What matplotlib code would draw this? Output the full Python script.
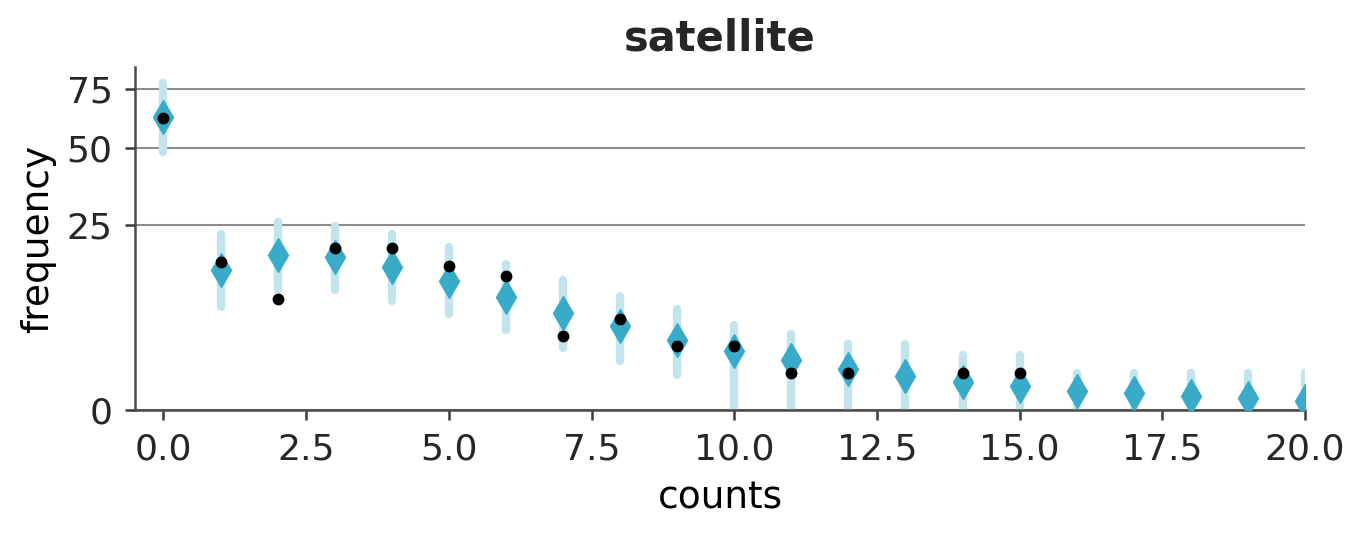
import numpy as np
import matplotlib
matplotlib.use("Agg")
import matplotlib.pyplot as plt

# data (frequency per count value)
counts = list(range(21))
pred_mean = [62.2, 14.2, 17.4, 17.1, 14.8, 12.1, 9.3, 6.8, 5.1, 3.6, 2.5, 1.8,
             1.2, 0.84, 0.58, 0.42, 0.27, 0.2, 0.14, 0.1, 0.06]
pred_low = [48.2, 7.7, 10.5, 10.5, 8.6, 6.7, 4.7, 2.75, 1.76, 0.89, 0, 0,
            0, 0, 0, 0, 0, 0, 0, 0, 0]
pred_high = [77.9, 22.6, 25.6, 24.5, 22.4, 19.4, 15.4, 12.2, 9.4, 7.4, 5.3, 4.25,
             3.2, 3.2, 2.19, 2.19, 1.0, 1.0, 1.0, 1.0, 1.0]
obs_counts = [0, 1, 2, 3, 4, 5, 6, 7, 8, 9, 10, 11, 12, 14, 15]
obs_freq = [62, 16, 9, 19, 19, 15, 13, 4, 6, 3, 3, 1, 1, 1, 1]
yticks = [0, 25, 50, 75]
xticks = [0.0, 2.5, 5.0, 7.5, 10.0, 12.5, 15.0, 17.5, 20.0]

fig = plt.figure(figsize=(13.66, 5.36), dpi=100)
ax = fig.add_axes([0.0988, 0.2351, 0.9553 - 0.0988, 0.875 - 0.2351])
ax.set_yscale('function', functions=(lambda y: np.sqrt(np.clip(y, 0, None)), lambda y: y ** 2))

ax.vlines(counts, pred_low, pred_high, color='#c2e5ed', linewidth=6, capstyle='round', zorder=2)
ax.plot(counts, pred_mean, linestyle='none', marker='d', markersize=17.5, color='#38abc8', zorder=3)
ax.plot(obs_counts, obs_freq, linestyle='none', marker='o', markersize=7.5, color='black', zorder=4)

ax.set_xlim(-0.5, 20)
ax.set_ylim(0, 85.5)
ax.set_yticks(yticks)
ax.set_yticklabels([str(t) for t in yticks])
ax.set_xticks(xticks)
ax.set_xticklabels([f"{t:.1f}" for t in xticks])
ax.yaxis.grid(True, color='#8c8c8c', linewidth=1.5, zorder=0)
ax.set_axisbelow(True)
for s in ['top', 'right']:
    ax.spines[s].set_visible(False)
for s in ['left', 'bottom']:
    ax.spines[s].set_color('#4a4a4a')
    ax.spines[s].set_linewidth(1.8)
ax.tick_params(axis='both', labelsize=26, length=7, width=1.8, color='#3a3a3a',
               labelcolor='#262626', pad=9)
ax.set_xlabel('counts', fontsize=27, color='black', labelpad=10)
ax.set_ylabel('frequency', fontsize=27, color='black', labelpad=8)
ax.set_title('satellite', fontsize=30, fontweight='bold', color='#262626', pad=12)

fig.savefig('out.png', dpi=100)
